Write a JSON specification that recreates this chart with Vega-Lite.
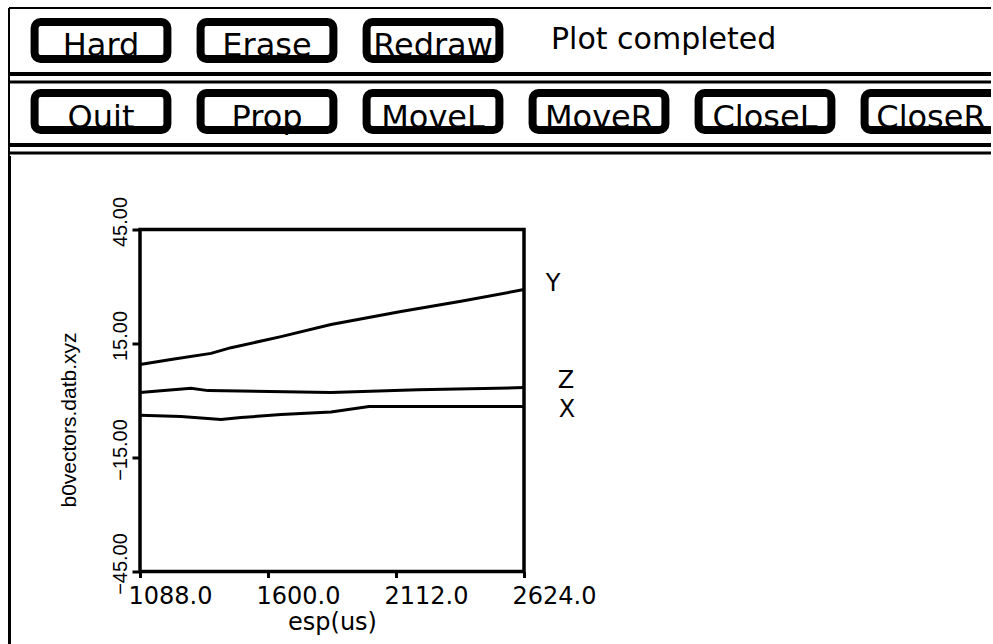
{
  "$schema": "https://vega.github.io/schema/vega-lite/v6.json",
  "background": "white",
  "padding": {"left": 7, "top": 6, "right": 0, "bottom": 0},
  "bounds": "flush",
  "spacing": 0,
  "config": {
    "view": {"stroke": null},
    "font": "DejaVu Sans",
    "axis": {"labelColor": "black", "titleColor": "black", "tickColor": "black", "grid": false, "domain": false}
  },
  "datasets": {
    "buttons": [
      {"label": "Hard", "row": "r1", "col": 0, "kind": "button"},
      {"label": "Erase", "row": "r1", "col": 1, "kind": "button"},
      {"label": "Redraw", "row": "r1", "col": 2, "kind": "button"},
      {"label": "Plot completed", "row": "r1", "col": 3, "kind": "status"},
      {"label": "Quit", "row": "r2", "col": 0, "kind": "button"},
      {"label": "Prop", "row": "r2", "col": 1, "kind": "button"},
      {"label": "MoveL", "row": "r2", "col": 2, "kind": "button"},
      {"label": "MoveR", "row": "r2", "col": 3, "kind": "button"},
      {"label": "CloseL", "row": "r2", "col": 4, "kind": "button"},
      {"label": "CloseR", "row": "r2", "col": 5, "kind": "button"}
    ],
    "vectors": [
      {"series": "Y", "esp": 1088, "value": 9.5},
      {"series": "Y", "esp": 1212, "value": 10.8},
      {"series": "Y", "esp": 1372, "value": 12.4},
      {"series": "Y", "esp": 1452, "value": 13.9},
      {"series": "Y", "esp": 1652, "value": 16.8},
      {"series": "Y", "esp": 1852, "value": 20.0},
      {"series": "Y", "esp": 2132, "value": 23.4},
      {"series": "Y", "esp": 2372, "value": 26.1},
      {"series": "Y", "esp": 2624, "value": 29.2},
      {"series": "Z", "esp": 1088, "value": 2.1},
      {"series": "Z", "esp": 1292, "value": 3.2},
      {"series": "Z", "esp": 1360, "value": 2.6},
      {"series": "Z", "esp": 1852, "value": 2.1},
      {"series": "Z", "esp": 2200, "value": 2.8},
      {"series": "Z", "esp": 2624, "value": 3.4},
      {"series": "X", "esp": 1088, "value": -3.9},
      {"series": "X", "esp": 1252, "value": -4.2},
      {"series": "X", "esp": 1412, "value": -5.0},
      {"series": "X", "esp": 1492, "value": -4.5},
      {"series": "X", "esp": 1652, "value": -3.7},
      {"series": "X", "esp": 1852, "value": -3.0},
      {"series": "X", "esp": 2004, "value": -1.6},
      {"series": "X", "esp": 2624, "value": -1.6}
    ]
  },
  "vconcat": [
    {
      "width": 982,
      "height": 149,
      "data": {"name": "buttons"},
      "layer": [
        {
          "transform": [{"filter": "datum.label == 'Hard'"}],
          "mark": {"type": "rule", "color": "black", "strokeWidth": 2, "yOffset": -10},
          "encoding": {
            "y": {"field": "row", "type": "nominal", "bandPosition": 0, "axis": null,
                  "scale": {"domain": ["r1", "r2"], "paddingInner": 0.366, "paddingOuter": 0.232, "align": 0.303}}
          }
        },
        {
          "transform": [{"filter": "datum.label == 'Hard'"}],
          "mark": {"type": "rule", "color": "black", "strokeWidth": 2, "xOffset": -9},
          "encoding": {
            "x": {"field": "col", "type": "ordinal", "bandPosition": 0, "axis": null,
                  "scale": {"domain": [0, 1, 2, 3, 4, 5], "range": [9, 1005], "paddingInner": 0, "paddingOuter": 0}}
          }
        },
        {
          "transform": [{"filter": "datum.col == 0"}],
          "mark": {"type": "rule", "color": "black", "strokeWidth": 4, "yOffset": 11},
          "encoding": {
            "y": {"field": "row", "type": "nominal", "bandPosition": 1, "axis": null}
          }
        },
        {
          "transform": [{"filter": "datum.col == 0"}],
          "mark": {"type": "rule", "color": "black", "strokeWidth": 3, "yOffset": 19},
          "encoding": {
            "y": {"field": "row", "type": "nominal", "bandPosition": 1, "axis": null}
          }
        },
        {
          "transform": [{"filter": "datum.kind == 'button'"}],
          "mark": {"type": "bar", "fill": "white", "stroke": "black", "strokeWidth": 8, "cornerRadius": 6,
                   "width": {"band": 0.8}, "height": {"band": 0.82}, "clip": true},
          "encoding": {
            "x": {"field": "col", "type": "ordinal", "axis": null},
            "y": {"field": "row", "type": "nominal", "axis": null}
          }
        },
        {
          "transform": [{"filter": "datum.kind == 'button'"}],
          "mark": {"type": "text", "fontSize": 32, "font": "DejaVu Sans", "color": "black", "dy": 6, "baseline": "middle", "align": "center", "clip": true},
          "encoding": {
            "x": {"field": "col", "type": "ordinal", "axis": null},
            "y": {"field": "row", "type": "nominal", "axis": null},
            "text": {"field": "label"}
          }
        },
        {
          "transform": [{"filter": "datum.kind == 'status'"}],
          "mark": {"type": "text", "fontSize": 30, "font": "DejaVu Sans", "color": "black", "dx": 35, "baseline": "middle", "align": "left"},
          "encoding": {
            "x": {"field": "col", "type": "ordinal", "bandPosition": 0, "axis": null},
            "y": {"field": "row", "type": "nominal", "axis": null},
            "text": {"field": "label"}
          }
        }
      ]
    },
    {
      "bounds": "flush",
      "spacing": 130,
      "center": true,
      "hconcat": [
        {
          "width": 1,
          "height": 487,
          "view": {"stroke": "black", "strokeWidth": 2},
          "data": {"values": [{"blank": ""}]},
          "mark": {"type": "text"},
          "encoding": {"text": {"field": "blank"}}
        },
        {
          "width": 384,
          "height": 342,
          "view": {"stroke": "black", "strokeWidth": 3.5},
          "data": {"name": "vectors"},
          "encoding": {
            "x": {
              "field": "esp", "type": "quantitative",
              "scale": {"domain": [1088, 2624], "nice": false, "zero": false},
              "axis": {
                "values": [1088, 1600, 2112, 2624], "format": ".1f",
                "labelFont": "DejaVu Sans", "labelFontSize": 24, "labelFlush": false, "labelOverlap": false,
                "labelOffset": 30, "labelPadding": 7, "tickSize": 6, "tickWidth": 3,
                "title": "esp(us)", "titleFont": "DejaVu Sans", "titleFontSize": 24, "titleFontWeight": "normal", "titlePadding": 2
              }
            },
            "y": {
              "field": "value", "type": "quantitative",
              "scale": {"domain": [-45, 45], "nice": false, "zero": false},
              "axis": {
                "values": [-45, -15, 15, 45], "format": ".2f",
                "labelAngle": -90, "labelAlign": "center", "labelBaseline": "bottom",
                "labelFont": "Liberation Sans", "labelFontSize": 20, "labelFlush": false, "labelOverlap": false,
                "labelOffset": -8, "labelPadding": 2, "tickSize": 8, "tickWidth": 3,
                "title": "b0vectors.datb.xyz", "titleFont": "Liberation Sans", "titleFontSize": 21, "titleFontWeight": "normal",
                "titlePadding": 31, "titleY": 190
              }
            }
          },
          "layer": [
            {
              "mark": {"type": "line", "color": "black", "strokeWidth": 3},
              "encoding": {"detail": {"field": "series", "type": "nominal"}}
            },
            {
              "transform": [{"filter": "datum.esp == 2624 && datum.series == 'Y'"}],
              "mark": {"type": "text", "font": "DejaVu Sans", "fontSize": 24, "color": "black", "dx": 29, "dy": -6, "align": "center", "baseline": "middle"},
              "encoding": {"text": {"field": "series"}}
            },
            {
              "transform": [{"filter": "datum.esp == 2624 && datum.series == 'Z'"}],
              "mark": {"type": "text", "font": "DejaVu Sans", "fontSize": 24, "color": "black", "dx": 42, "dy": -7, "align": "center", "baseline": "middle"},
              "encoding": {"text": {"field": "series"}}
            },
            {
              "transform": [{"filter": "datum.esp == 2624 && datum.series == 'X'"}],
              "mark": {"type": "text", "font": "DejaVu Sans", "fontSize": 24, "color": "black", "dx": 43, "dy": 3, "align": "center", "baseline": "middle"},
              "encoding": {"text": {"field": "series"}}
            }
          ]
        }
      ]
    }
  ]
}
